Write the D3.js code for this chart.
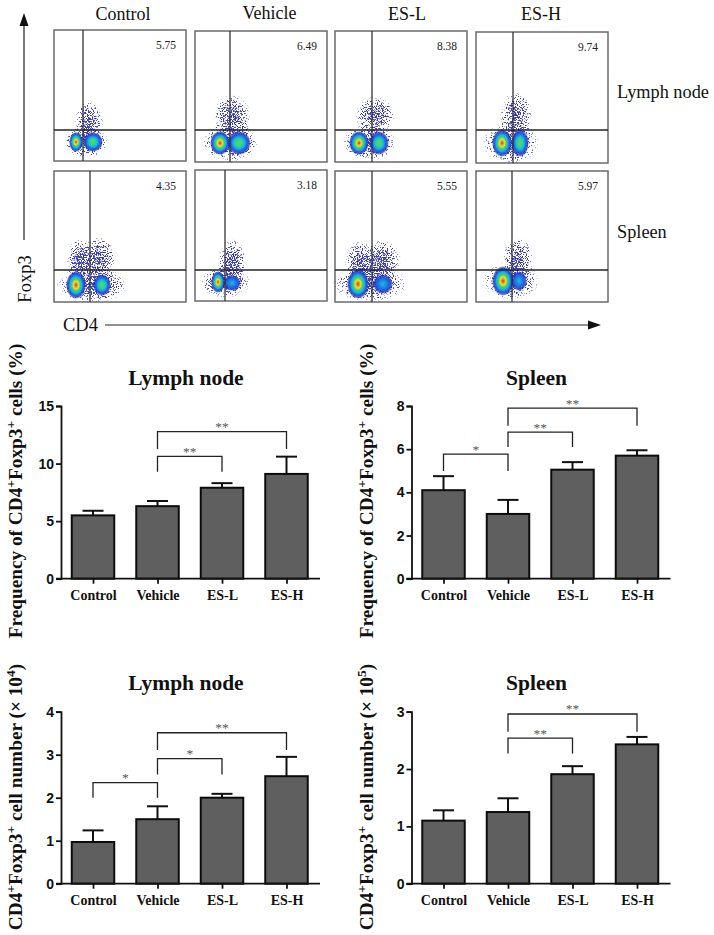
<!DOCTYPE html>
<html><head><meta charset="utf-8">
<script src="https://cdn.jsdelivr.net/npm/d3@7"></script>
<style>html,body{margin:0;padding:0;background:#fff}svg{display:block}</style>
</head><body><svg id="c" width="714" height="935"></svg>
<script>
// ---------- data ----------
const categories = ["Control","Vehicle","ES-L","ES-H"];
const tissues = ["Lymph node","Spleen"];
const flowPercent = [[5.75,6.49,8.38,9.74],[4.35,3.18,5.55,5.97]];
const flowGateX = [[29,35,37,37],[36,30,37,36]];
const flowGateY = [[100,99,99,98],[99,100,99,99]];
// populations per plot: [x, y, spreadX, spreadY, kind] on a 0-132 plot scale (y measured from top)
const flowLN = [
 [[22,112,7,10,"hot"],[39,112,10,10,"warm"],[35,92,15,23,"sparse"],[32,112,24,17,"sparse"]],
 [[25,112,10,12,"hot"],[44,112,12,12,"warm"],[37,86,20,24,"sparse"],[35,112,30,20,"sparse"]],
 [[24,112,10,12,"hot"],[44,112,10,12,"warm"],[40,84,21,20,"sparse"],[34,112,29,19,"sparse"]],
 [[26,111,10,14,"hot"],[44,111,9,14,"warm"],[40,83,17,25,"sparse"],[35,111,30,22,"sparse"]]
];
const flowSP = [
 [[22,114,10,14,"hot"],[48,114,9,11,"warm"],[44,88,19,24,"sparse"],[25,90,13,24,"sparse"],[38,114,38,19,"sparse"]],
 [[23,112,7,11,"hot"],[37,113,9,8,"cool"],[37,92,15,25,"sparse"],[30,112,27,17,"sparse"]],
 [[23,113,11,15,"hot"],[48,113,10,10,"cool"],[47,89,20,22,"sparse"],[25,92,16,24,"sparse"],[35,113,40,19,"sparse"]],
 [[27,110,11,15,"hot"],[43,110,8,10,"cool"],[42,88,16,23,"sparse"],[35,110,30,20,"sparse"]]
];
const freqLNValues = [5.5,6.3,7.9,9.1];
const freqLNTops = [5.9,6.75,8.3,10.6];
const freqSPValues = [4.1,3.0,5.05,5.7];
const freqSPTops = [4.75,3.65,5.4,5.95];
const numLNValues = [0.97,1.5,2.0,2.5];
const numLNTops = [1.24,1.8,2.09,2.95];
const numSPValues = [1.1,1.25,1.91,2.43];
const numSPTops = [1.28,1.49,2.05,2.56];
// brackets: [from category, to category, top value, foot value, label]
const freqLNBrackets = [[1,2,10.63,9.3,"**"],[1,3,12.77,11.27,"**"]];
const freqSPBrackets = [[0,1,5.77,4.99,"*"],[1,2,6.79,6.1,"**"],[1,3,7.9,7.08,"**"]];
const numLNBrackets = [[0,1,2.35,2.0,"*"],[1,2,2.91,2.54,"*"],[1,3,3.51,3.11,"**"]];
const numSPBrackets = [[1,2,2.54,2.27,"**"],[1,3,2.96,2.65,"**"]];
const freqLNTicks=[0,5,10,15], freqSPTicks=[0,2,4,6,8], numLNTicks=[0,1,2,3,4], numSPTicks=[0,1,2,3];

// ---------- layout ----------
const serif='"Liberation Serif","Times New Roman",serif', sans='"Liberation Sans",Arial,sans-serif';
const svg=d3.select("#c");
const defs=svg.append("defs");
const grads={
 hot:[[0,"#d8301c"],[.12,"#f08a20"],[.27,"#e6e035"],[.42,"#40d070"],[.58,"#18b8d8"],[.74,"#2060e0"],[.88,"#2030c0",.75],[1,"#2030c0",0]],
 warm:[[0,"#50dd50"],[.25,"#38d488"],[.46,"#18b8d8"],[.68,"#2060e0"],[.86,"#2030c0",.75],[1,"#2030c0",0]],
 cool:[[0,"#20b8d0"],[.32,"#1890e0"],[.6,"#2060e0"],[.84,"#2030c0",.75],[1,"#2030c0",0]],
 sparse:[[0,"#000",.88],[.5,"#000",.56],[1,"#000",.05]]
};
Object.entries(grads).forEach(([k,st])=>{
 const g=defs.append("radialGradient").attr("id","g-"+k);
 st.forEach(s=>g.append("stop").attr("offset",s[0]).attr("stop-color",s[1]).attr("stop-opacity",s[2]===undefined?1:s[2]));
});
const sp=defs.append("filter").attr("id","speck").attr("filterUnits","userSpaceOnUse")
 .attr("x",0).attr("y",0).attr("width",714).attr("height",330).attr("color-interpolation-filters","sRGB");
sp.append("feTurbulence").attr("type","fractalNoise").attr("baseFrequency",0.8).attr("numOctaves",2).attr("seed",7).attr("result","n");
sp.append("feColorMatrix").attr("in","n").attr("type","matrix")
 .attr("values","0 0 0 0 0  0 0 0 0 0  0 0 0 0 0  3 0 0 0 -1").attr("result","na");
sp.append("feComposite").attr("in","SourceAlpha").attr("in2","na").attr("operator","arithmetic")
 .attr("k1",0).attr("k2",1).attr("k3",1).attr("k4",-1).attr("result","sum");
const ct=sp.append("feComponentTransfer").attr("in","sum").attr("result","dots");
ct.append("feFuncA").attr("type","linear").attr("slope",5).attr("intercept",-0.5);
sp.append("feFlood").attr("flood-color","#1f1fa8").attr("flood-opacity",0.85).attr("result","ink");
sp.append("feComposite").attr("in","ink").attr("in2","dots").attr("operator","in");
defs.append("filter").attr("id","soft").append("feGaussianBlur").attr("stdDeviation",0.7);

const colX=[54,195,335,476], rowY=[[30,31,31,32],[171,170,171,171]];
const rows=[flowLN,flowSP];
const plot=svg.append("g");
rows.forEach((row,r)=>row.forEach((pops,c)=>{
 const x=d3.scaleLinear([0,132],[colX[c],colX[c]+132]);
 const y=d3.scaleLinear([0,131],[rowY[r][c],rowY[r][c]+131]);
 const g=plot.append("g");
 g.append("rect").attr("x",x(0)).attr("y",y(0)).attr("width",x(132)-x(0)).attr("height",y(131)-y(0))
  .attr("fill","#fff").attr("stroke","#6a6a6a").attr("stroke-width",1.5);
 g.append("g").attr("filter","url(#speck)").selectAll("ellipse").data(pops.filter(p=>p[4]==="sparse")).join("ellipse")
  .attr("cx",p=>x(p[0])).attr("cy",p=>y(p[1])).attr("rx",p=>x(p[2])-x(0)).attr("ry",p=>y(p[3])-y(0)).attr("fill","url(#g-sparse)");
 g.append("g").attr("filter","url(#soft)").selectAll("ellipse").data(pops.filter(p=>p[4]!=="sparse")).join("ellipse")
  .attr("cx",p=>x(p[0])).attr("cy",p=>y(p[1])).attr("rx",p=>x(p[2])-x(0)).attr("ry",p=>y(p[3])-y(0)).attr("fill",p=>`url(#g-${p[4]})`);
 g.append("line").attr("x1",x(flowGateX[r][c])).attr("x2",x(flowGateX[r][c])).attr("y1",y(0)).attr("y2",y(131)).attr("stroke","#333").attr("stroke-width",1.3);
 g.append("line").attr("x1",x(0)).attr("x2",x(132)).attr("y1",y(flowGateY[r][c])).attr("y2",y(flowGateY[r][c])).attr("stroke","#222").attr("stroke-width",1.3);
 g.append("text").attr("x",x(122)).attr("y",y(19)).attr("text-anchor","end").attr("font-family",serif).attr("font-size",11.5).attr("fill","#222").text(flowPercent[r][c].toFixed(2));
}));
const hdrX=[123,269.5,407,541], hdrY=[20,19,20,20];
categories.forEach((t,i)=>svg.append("text").attr("x",hdrX[i]).attr("y",hdrY[i]).attr("text-anchor","middle").attr("font-family",serif).attr("font-size",18).attr("fill","#111").text(t));
tissues.forEach((t,i)=>svg.append("text").attr("x",617).attr("y",[98,238][i]).attr("font-family",serif).attr("font-size",18.3).attr("fill","#111").text(t));
// axes arrows
function arrow(x1,y1,x2,y2){
 svg.append("line").attr("x1",x1).attr("y1",y1).attr("x2",x2).attr("y2",y2).attr("stroke","#222").attr("stroke-width",1.2);
 const a=Math.atan2(y2-y1,x2-x1),L=10,W=4.5;
 const p=[[x2+Math.cos(a)*3,y2+Math.sin(a)*3],[x2-Math.cos(a)*L-Math.sin(a)*W,y2-Math.sin(a)*L+Math.cos(a)*W],[x2-Math.cos(a)*L+Math.sin(a)*W,y2-Math.sin(a)*L-Math.cos(a)*W]];
 svg.append("path").attr("d",d3.line()(p)+"Z").attr("fill","#111");
}
arrow(24,240,24,16); arrow(105,325,598,325);
svg.append("text").attr("transform","translate(31,279) rotate(-90)").attr("text-anchor","middle").attr("font-family",serif).attr("font-size",18.5).attr("fill","#111").text("Foxp3");
svg.append("text").attr("x",63).attr("y",331).attr("font-family",serif).attr("font-size",18.5).attr("fill","#111").text("CD4");

function chart(o){
 const y=d3.scaleLinear([o.ticks[0],o.ticks[o.ticks.length-1]],[o.y0,o.y1]);
 const x=d3.scalePoint(categories,[o.c0,o.c0+193.5]);
 const g=svg.append("g");
 const bw=42.5;
 g.selectAll(".err").data(o.values).join("line").attr("x1",(d,i)=>x(categories[i])).attr("x2",(d,i)=>x(categories[i]))
  .attr("y1",d=>y(d)).attr("y2",(d,i)=>y(o.tops[i])).attr("stroke","#111").attr("stroke-width",2);
 g.selectAll(".cap").data(o.tops).join("line").attr("x1",(d,i)=>x(categories[i])-10.5).attr("x2",(d,i)=>x(categories[i])+10.5)
  .attr("y1",d=>y(d)).attr("y2",d=>y(d)).attr("stroke","#111").attr("stroke-width",2);
 g.selectAll(".bar").data(o.values).join("rect").attr("x",(d,i)=>x(categories[i])-bw/2).attr("width",bw)
  .attr("y",d=>y(d)).attr("height",d=>y(0)-y(d)).attr("fill","#5f5f5f").attr("stroke","#0c0c0c").attr("stroke-width",2);
 const ya=g.append("g").attr("transform",`translate(${o.axisX},0)`).call(d3.axisLeft(y).tickValues(o.ticks).tickFormat(d3.format("d")).tickSizeOuter(0).tickSize(5).tickPadding(2));
 ya.selectAll("path,line").attr("stroke","#111").attr("stroke-width",1.8);
 ya.selectAll("text").attr("font-family",sans).attr("font-weight","bold").attr("font-size",14).attr("fill","#111");
 const xa=g.append("g").attr("transform",`translate(0,${o.y0})`).call(d3.axisBottom(x).tickSizeOuter(0).tickSize(5).tickPadding(6));
 xa.select("path").remove();
 xa.append("line").attr("x1",o.axisX-5).attr("x2",o.axisX+259).attr("stroke","#111");
 xa.selectAll("line").attr("stroke","#111").attr("stroke-width",1.8);
 xa.selectAll("text").attr("font-family",serif).attr("font-weight","bold").attr("font-size",14).attr("fill","#111");
 o.brackets.forEach(b=>{
  const a=x(categories[b[0]]),c=x(categories[b[1]]);
  g.append("path").attr("d",`M${a},${y(b[3])}V${y(b[2])}H${c}V${y(b[3])}`).attr("fill","none").attr("stroke","#222").attr("stroke-width",1.3);
  g.append("text").attr("x",(a+c)/2).attr("y",y(b[2])-0.5).attr("text-anchor","middle").attr("font-family",serif).attr("font-size",13.5).attr("fill","#555").text(b[4]);
 });
 svg.append("text").attr("x",o.titleX).attr("y",o.titleY).attr("text-anchor","middle").attr("font-family",serif).attr("font-weight","bold").attr("font-size",21.5).attr("fill","#111").text(o.title);
 const t=svg.append("text").attr("transform",`translate(${o.labelX},${o.labelY}) rotate(-90)`).attr("text-anchor","middle").attr("font-family",serif).attr("font-weight","bold").attr("font-size",19.3).attr("fill","#111");
 o.label.forEach(p=>{
  const s=t.append("tspan").text(p[0]);
  if(p[1]===1) s.attr("dy",-7).attr("font-size",13.5);
  if(p[1]===-1) s.attr("dy",7);
 });
}
const freqLabel=[["Frequency of CD4"],["+",1],["Foxp3",-1],["+",1],[" cells (%)",-1]];
chart({values:freqLNValues,tops:freqLNTops,ticks:freqLNTicks,brackets:freqLNBrackets,y0:578.7,y1:406,c0:93,axisX:61,title:"Lymph node",titleX:186,titleY:385,labelX:22,labelY:491,label:freqLabel});
chart({values:freqSPValues,tops:freqSPTops,ticks:freqSPTicks,brackets:freqSPBrackets,y0:578.7,y1:406,c0:443.5,axisX:411.5,title:"Spleen",titleX:536.5,titleY:385,labelX:373,labelY:491,label:freqLabel});
const numLabel=e=>[["CD4"],["+",1],["Foxp3",-1],["+",1],[" cell number (× 10",-1],[e,1],[")",-1]];
chart({values:numLNValues,tops:numLNTops,ticks:numLNTicks,brackets:numLNBrackets,y0:883.7,y1:711.7,c0:93,axisX:61,title:"Lymph node",titleX:186,titleY:690,labelX:22,labelY:797,label:numLabel("4")});
chart({values:numSPValues,tops:numSPTops,ticks:numSPTicks,brackets:numSPBrackets,y0:883.7,y1:711.7,c0:443.5,axisX:411.5,title:"Spleen",titleX:536.5,titleY:690,labelX:373,labelY:797,label:numLabel("5")});
</script></body></html>
